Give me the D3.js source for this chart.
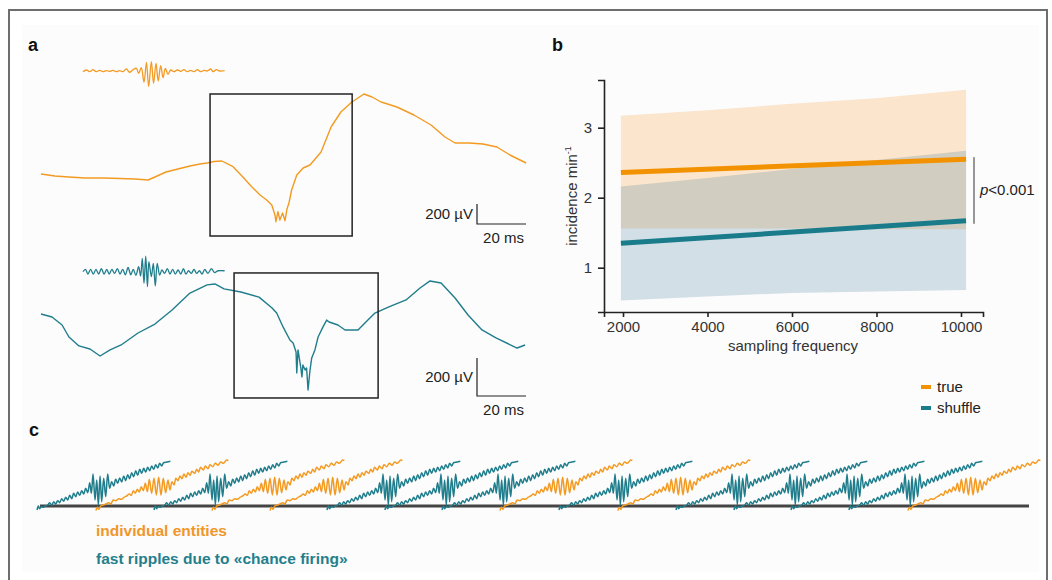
<!DOCTYPE html>
<html><head><meta charset="utf-8">
<script src="https://cdn.jsdelivr.net/npm/d3@7"></script>
<style>body{margin:0;background:#fff}text{font-family:"Liberation Sans",Arial,sans-serif}</style>
</head><body><svg id="fig" width="1052" height="580"></svg>
<script>
// ---------- DATA ----------
// panel a: LFP traces [time ms, voltage µV relative to trace start]
const trueLFP = [[0,0],[5.7,-20],[11.4,-30],[18,-40],[25.3,-40],[32.2,-45],[38.4,-50],[43.7,-60],[46.5,-30],[51,20],[55.9,50],[60.8,80],[64.9,100],[67.8,110],[70.6,125],[73.8,130],[78.4,73],[82.3,-27],[86,-127],[89.4,-210],[92.1,-260],[94.2,-310],[95.5,-410],[95.9,-477],[96.7,-377],[97.5,-460],[98.6,-390],[99.6,-467],[100.4,-350],[101.2,-290],[102.3,-160],[104.4,-10],[107,60],[109.8,90],[114.3,220],[118.4,470],[122.4,620],[126.9,720],[131.8,800],[135.1,770],[138.8,720],[145.3,670],[152.2,590],[159.2,490],[164.9,370],[169,310],[174.7,310],[180.4,300],[186.1,270],[191.4,190],[198,110]];
const shuffleLFP = [[0,0],[4.5,-16],[8.6,-58],[11.4,-121],[15.5,-168],[20,-184],[24.1,-221],[28.2,-189],[32.7,-163],[39.6,-100],[46.5,-53],[53.5,21],[60.8,110],[67.8,153],[71,158],[74.7,132],[81.6,116],[89,89],[94.3,32],[96.2,5],[98.8,-68],[101.6,-137],[102.9,-153],[104.1,-200],[104.4,-310],[104.9,-189],[106,-279],[106.5,-331],[106.9,-268],[107.8,-295],[108.4,-284],[109,-400],[109.8,-295],[110.5,-231],[111.8,-189],[113.1,-121],[115.1,-68],[116.6,-32],[117.6,-42],[121.2,-58],[124.1,-84],[129.4,-84],[132.2,-47],[136.3,5],[142,37],[149,74],[154.7,137],[158.8,174],[163.3,163],[169,84],[174.3,-5],[180,-84],[185.7,-126],[194.3,-179],[197.6,-163]];
// filtered ripple insets [ms, µV]
const trueRipple = [[0,-7],[1.4,10],[2.7,-7],[4.1,13],[5.4,-7],[6.8,7],[8.2,-7],[9.5,3],[10.9,-3],[12.2,7],[13.6,-7],[15,3],[16.3,-7],[17.7,20],[19,-13],[20.4,13],[21.8,27],[22.7,-23],[23.8,33],[24.9,-113],[25.9,87],[26.8,-157],[27.9,93],[28.8,-123],[29.8,77],[30.7,-100],[31.7,53],[32.7,-67],[33.6,27],[34.7,-33],[35.8,10],[37.1,-7],[38.5,10],[39.9,-3],[41.2,13],[42.6,-7],[43.9,7],[45.3,-7],[46.7,13],[48,-7],[49.4,7],[50.7,0],[52.1,20],[53.1,-7],[54.4,13],[55.8,0],[57.8,3]];
const shuffleRipple = [[0,0],[1,12],[2,-12],[3.1,12],[4.2,-12],[5.3,12],[6.4,-12],[7.5,16],[8.6,-12],[9.7,12],[10.7,-12],[11.8,12],[12.9,-9],[14,16],[15.1,-12],[16.2,12],[17.3,-16],[18.4,23],[19.5,-16],[20.5,12],[21.6,-19],[22.7,26],[23.5,-23],[24.2,70],[24.9,-61],[25.6,82],[26.3,-79],[26.9,53],[27.9,-26],[28.7,44],[29.5,-75],[30.3,44],[31.3,-18],[32.2,9],[33.3,-9],[34.4,16],[35.5,-12],[36.6,12],[37.7,-12],[38.8,9],[39.9,-12],[41,16],[42,-12],[43.1,5],[44.2,-9],[45.3,12],[46.4,-9],[47.5,5],[48.6,-12],[49.7,12],[51,-9],[52.4,16],[53.7,-5],[55.1,5],[57.8,5]];
// zoom boxes [t0, t1, vLow, vHigh]
const trueBox = [69, 127, -620, 800];
const shuffleBox = [78.8, 137.6, -442, 216];
const scaleBarMs = 20, scaleBarUV = 200;

// panel b
const freqTicks = [2000, 4000, 6000, 8000, 10000];
const incTicks = [1, 2, 3];
const bandFreq = [1950, 4000, 6000, 8000, 10120];
const trueUpper = [3.17, 3.25, 3.34, 3.42, 3.54];
const trueLower = [1.56, 1.56, 1.56, 1.55, 1.55];
const shuffleUpper = [2.16, 2.28, 2.41, 2.54, 2.67];
const shuffleLower = [0.53, 0.59, 0.64, 0.66, 0.68];
const fitFreq = [1950, 10120];
const trueFit = [2.36, 2.55];
const shuffleFit = [1.35, 1.67];
const pBracket = [1.67, 2.55];
const legendLabels = ["true", "shuffle"];

// panel c: ripple motifs [sample, amplitude]
const shuffleMotif = [[0,-15],[4,-3],[8,-11],[13,-5],[18,-7],[25,-3],[32,0],[38,7],[44,-1],[50,10],[56,3],[62,13],[68,7],[74,19],[80,11],[86,23],[92,15],[98,29],[104,19],[110,35],[116,25],[122,39],[128,29],[134,43],[140,33],[146,50],[152,37],[158,67],[163,35],[168,93],[174,15],[179,75],[184,0],[189,87],[194,10],[200,80],[206,25],[212,93],[218,50],[224,70],[230,57],[236,77],[242,65],[248,81],[254,69],[260,87],[266,73],[272,91],[278,79],[284,97],[290,85],[296,103],[302,89],[308,107],[314,95],[320,110],[326,99],[332,113],[338,103],[344,117],[350,107],[356,121],[362,111],[368,125],[374,117],[380,127],[390,129],[400,131]];
const trueMotif = [[0,-17],[4,-7],[9,-13],[14,-3],[22,0],[30,3],[38,7],[44,3],[52,15],[60,13],[68,19],[76,17],[84,23],[92,27],[100,33],[106,29],[112,43],[118,35],[124,47],[130,39],[136,55],[142,43],[148,65],[154,40],[160,77],[167,35],[174,80],[181,30],[188,83],[195,30],[202,80],[209,37],[216,75],[222,45],[228,70],[234,60],[240,80],[246,73],[252,87],[258,79],[264,93],[270,83],[276,97],[282,89],[288,101],[296,95],[302,107],[308,99],[314,113],[322,105],[328,117],[336,109],[342,121],[350,115],[358,125],[366,119],[374,129],[382,125],[392,135],[397,133]];
const eventTimes = [-0.3, 5.66, 11.53, 17.39, 23.26, 29.02, 34.88, 40.65, 46.51, 52.48, 58.44, 64.31, 70.17, 75.94, 81.8, 87.77];
const eventTypes = ["shuffle","true","shuffle","true","true","shuffle","shuffle","shuffle","true","shuffle","true","shuffle","shuffle","shuffle","shuffle","true"];
const cLabels = ["individual entities", "fast ripples due to «chance firing»"];

// ---------- STYLE ----------
const ORANGE = "#f39a22", TEAL = "#1f7d8c";
const svg = d3.select("#fig");

// frame
svg.append("rect").attr("x",22).attr("y",25).attr("width",1017).attr("height",547).attr("fill","#fcfcfc");
svg.append("path").attr("d","M9,580V10H1047V580").attr("fill","none").attr("stroke","#6e6e6e").attr("stroke-width",2);

function letter(t,x,y){svg.append("text").attr("x",x).attr("y",y).attr("font-size",18).attr("font-weight","bold").attr("fill","#111").text(t);}
letter("a",28,51); letter("b",552,51); letter("c",29,436);

// ---------- PANEL A ----------
const tS = d3.scaleLinear().domain([0, 20]).range([0, 49]);
function panelA(lfp, ripple, box, color, ox, oy, ry, pxPer200, barY){
  const vS = d3.scaleLinear().domain([0, 200]).range([0, -pxPer200]);
  const g = svg.append("g").attr("transform",`translate(${ox},${oy})`);
  g.append("path").datum(lfp).attr("fill","none").attr("stroke",color).attr("stroke-width",1.4)
    .attr("stroke-linejoin","round").attr("d", d3.line().x(d=>tS(d[0])).y(d=>vS(d[1])));
  g.append("rect").attr("x",tS(box[0])).attr("y",vS(box[3])).attr("width",tS(box[1])-tS(box[0]))
    .attr("height",vS(box[2])-vS(box[3])).attr("fill","none").attr("stroke","#222").attr("stroke-width",1.5);
  const gi = svg.append("g").attr("transform",`translate(83,${ry})`);
  gi.append("path").datum(ripple).attr("fill","none").attr("stroke",color).attr("stroke-width",1.3)
    .attr("d", d3.line().curve(d3.curveCatmullRom.alpha(0.5)).x(d=>tS(d[0])).y(d=>vS(d[1])));
  // scale bar
  const sb = svg.append("g").attr("transform",`translate(477,${barY})`);
  sb.append("path").attr("d",`M0,${vS(scaleBarUV)}V0H${tS(scaleBarMs)}`).attr("fill","none").attr("stroke","#222").attr("stroke-width",1.2);
  sb.append("text").attr("x",-4).attr("y",vS(scaleBarUV)/2+5).attr("text-anchor","end").attr("font-size",15).attr("fill","#222").text(`${scaleBarUV} µV`);
  sb.append("text").attr("x",tS(scaleBarMs)/2+2).attr("y",19).attr("text-anchor","middle").attr("font-size",15).attr("fill","#222").text(`${scaleBarMs} ms`);
}
panelA(trueLFP, trueRipple, trueBox, ORANGE, 41, 174, 71, 20, 224);
panelA(shuffleLFP, shuffleRipple, shuffleBox, TEAL, 41, 314, 271.7, 38, 396);

// ---------- PANEL B ----------
const x = d3.scaleLinear().domain([1550, 10521]).range([604, 983]);
const y = d3.scaleLinear().domain([0.367, 3.681]).range([312, 80]);
const area = (up, lo) => d3.area().x((d,i)=>x(bandFreq[i])).y0((d,i)=>y(lo[i])).y1((d,i)=>y(up[i]))(bandFreq);
svg.append("path").attr("d", area(trueUpper, trueLower)).attr("fill","#f7a13a").attr("fill-opacity",0.25);
svg.append("path").attr("d", area(shuffleUpper, shuffleLower)).attr("fill","#2f6f8f").attr("fill-opacity",0.2);
const fitLine = vals => d3.line().x((d,i)=>x(fitFreq[i])).y(d=>y(d))(vals);
svg.append("path").attr("d", fitLine(trueFit)).attr("stroke","#f39200").attr("stroke-width",5).attr("fill","none");
svg.append("path").attr("d", fitLine(shuffleFit)).attr("stroke","#1a7c8b").attr("stroke-width",5).attr("fill","none");

const xAx = svg.append("g").attr("transform","translate(0,312)")
  .call(d3.axisBottom(x).tickValues(freqTicks).tickFormat(d3.format("d")).tickSizeOuter(0).tickSize(5).tickPadding(4));
const yAx = svg.append("g").attr("transform","translate(604,0)")
  .call(d3.axisLeft(y).tickValues(incTicks).tickFormat(d3.format("d")).tickSizeOuter(0).tickSize(6).tickPadding(6));
[xAx,yAx].forEach(a=>{a.selectAll("path,line").attr("stroke","#222").attr("stroke-width",1.6);
  a.selectAll("text").attr("font-size",15).attr("fill","#333").attr("font-family","Liberation Sans, Arial, sans-serif");});
svg.append("text").attr("x",793).attr("y",351).attr("text-anchor","middle").attr("font-size",15).attr("fill","#333").text("sampling frequency");
const yl = svg.append("text").attr("transform","translate(577,196) rotate(-90)").attr("text-anchor","middle").attr("font-size",15).attr("fill","#333");
yl.append("tspan").text("incidence min");
yl.append("tspan").attr("dy",-6).attr("font-size",9).text("-1");

// p bracket
svg.append("line").attr("x1",974).attr("x2",974).attr("y1",y(pBracket[1])-2).attr("y2",y(pBracket[0])+3).attr("stroke","#333").attr("stroke-width",1);
const pt = svg.append("text").attr("x",980).attr("y",195).attr("font-size",15).attr("fill","#222");
pt.append("tspan").attr("font-style","italic").text("p");
pt.append("tspan").text("<0.001");

// legend
const lg = svg.append("g").attr("transform","translate(921,387)");
legendLabels.forEach((l,i)=>{
  lg.append("rect").attr("x",0).attr("y",i*21-2).attr("width",10).attr("height",4).attr("fill", i? "#1a7c8b":"#f39200");
  lg.append("text").attr("x",16).attr("y",i*21+5).attr("font-size",15).attr("fill","#222").text(l);
});

// ---------- PANEL C ----------
const cX = d3.scaleLinear().domain([0, 100]).range([40, 1029]);
const mX = d3.scaleLinear().domain([0, 3]).range([0, 1]);
const mY = d3.scaleLinear().domain([0, 3]).range([0, -1]);
svg.append("line").attr("x1",cX(0)).attr("x2",1029).attr("y1",506).attr("y2",506).attr("stroke","#444").attr("stroke-width",3);
const motifLine = d3.line().curve(d3.curveCatmullRom.alpha(0.5)).x(d=>mX(d[0])).y(d=>mY(d[1]));
eventTimes.forEach((t,i)=>{
  const isTrue = eventTypes[i]==="true";
  svg.append("path").attr("transform",`translate(${cX(t)},505)`).datum(isTrue?trueMotif:shuffleMotif)
    .attr("d",motifLine).attr("fill","none").attr("stroke",isTrue?ORANGE:TEAL).attr("stroke-width",1.5).attr("stroke-linejoin","round");
});
svg.append("text").attr("x",96).attr("y",536).attr("font-size",15.5).attr("font-weight","bold").attr("fill","#f0962a").text(cLabels[0]);
svg.append("text").attr("x",96).attr("y",564).attr("font-size",15.5).attr("font-weight","bold").attr("fill","#237f8c").text(cLabels[1]);
</script></body></html>
